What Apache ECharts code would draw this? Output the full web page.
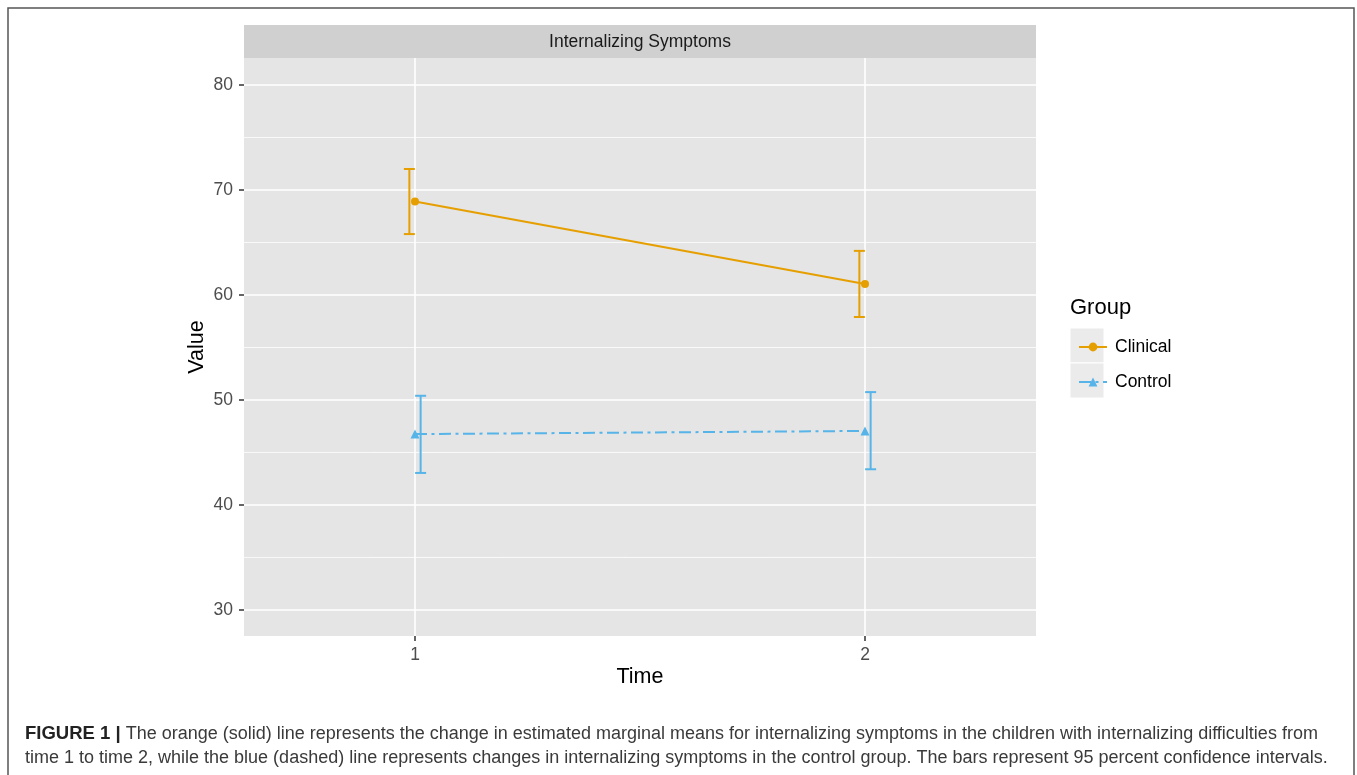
<!DOCTYPE html>
<html>
<head>
<meta charset="utf-8">
<script src="https://cdn.jsdelivr.net/npm/echarts@6/dist/echarts.min.js"></script>
<style>
html,body{margin:0;padding:0;background:#fff;}
#chart{width:1357px;height:775px;}
</style>
</head>
<body>
<div id="chart"></div>
<script>
// ---- data ----
var times = [1, 2];
var timeLabels = ['1', '2'];
var groups = ['Clinical', 'Control'];
var clinicalMean = [68.9, 61.05];
var clinicalLow = [65.8, 57.9];
var clinicalHigh = [72.0, 64.2];
var controlMean = [46.75, 47.05];
var controlLow = [43.05, 43.4];
var controlHigh = [50.4, 50.75];
var yMajorTicks = [30, 40, 50, 60, 70, 80];
var yMinorTicks = [35, 45, 55, 65, 75];
var stripTitle = 'Internalizing Symptoms';
var legendTitle = 'Group';
var captionBold = 'FIGURE 1 |';
var captionLine1 = ' The orange (solid) line represents the change in estimated marginal means for internalizing symptoms in the children with internalizing difficulties from';
var captionLine2 = 'time 1 to time 2, while the blue (dashed) line represents changes in internalizing symptoms in the control group. The bars represent 95 percent confidence intervals.';

// ---- layout / style ----
var X_MIN = 0.62, X_MAX = 2.38, Y_MIN = 27.52, Y_MAX = 82.57;
var DODGE = 0.0125;
var ORANGE = '#E69F00', BLUE = '#56B4E9';
var FONT = '"Liberation Sans", Arial, Helvetica, sans-serif';
var GRID = {left: 244, top: 58, width: 792, height: 578};

function pairs(xs, ys) { return xs.map(function (x, i) { return [x, ys[i]]; }); }
function triples(xs, lo, hi) { return xs.map(function (x, i) { return [x, lo[i], hi[i]]; }); }

function hLineSeries(values, width) {
  return {
    type: 'custom', silent: true, z: 1,
    data: values.map(function (v) { return [X_MIN, v]; }),
    renderItem: function (params, api) {
      var cs = params.coordSys;
      var y = api.coord([X_MIN, api.value(1)])[1];
      return {type: 'line', shape: {x1: cs.x, y1: y, x2: cs.x + cs.width, y2: y},
        style: {stroke: '#ffffff', lineWidth: width}};
    }
  };
}
function vLineSeries(values, width) {
  return {
    type: 'custom', silent: true, z: 1,
    data: values.map(function (v) { return [v, Y_MIN]; }),
    renderItem: function (params, api) {
      var cs = params.coordSys;
      var x = api.coord([api.value(0), Y_MIN])[0];
      return {type: 'line', shape: {x1: x, y1: cs.y, x2: x, y2: cs.y + cs.height},
        style: {stroke: '#ffffff', lineWidth: width}};
    }
  };
}
function errorSeries(name, data, color, dodge) {
  return {
    name: name, type: 'custom', z: 3, silent: true,
    data: data,
    renderItem: function (params, api) {
      var x = api.value(0) + dodge;
      var lo = api.coord([x, api.value(1)]);
      var hi = api.coord([x, api.value(2)]);
      var hw = 5.5;
      var st = {stroke: color, lineWidth: 2};
      return {type: 'group', children: [
        {type: 'line', shape: {x1: lo[0], y1: lo[1], x2: hi[0], y2: hi[1]}, style: st},
        {type: 'line', shape: {x1: lo[0] - hw, y1: lo[1], x2: lo[0] + hw, y2: lo[1]}, style: st},
        {type: 'line', shape: {x1: hi[0] - hw, y1: hi[1], x2: hi[0] + hw, y2: hi[1]}, style: st}
      ]};
    }
  };
}

var chart = echarts.init(document.getElementById('chart'), null, {renderer: 'canvas'});
var option = {
  animation: false,
  backgroundColor: '#ffffff',
  textStyle: {fontFamily: FONT},
  grid: {left: GRID.left, top: GRID.top, width: GRID.width, height: GRID.height,
    show: true, backgroundColor: '#e5e5e5', borderWidth: 0},
  xAxis: {
    type: 'value', min: X_MIN, max: X_MAX,
    name: 'Time', nameLocation: 'middle', nameGap: 30, nameMoveOverlap: false,
    nameTextStyle: {fontSize: 21.5, color: '#000', fontFamily: FONT},
    axisLine: {show: false},
    splitLine: {show: false},
    axisTick: {show: true, length: 5, customValues: times, lineStyle: {color: '#333', width: 1.5}},
    axisLabel: {customValues: times, margin: 10, color: '#4d4d4d', fontSize: 17.5, fontFamily: FONT,
      formatter: function (v) { var i = times.indexOf(v); return i >= 0 ? timeLabels[i] : ''; }}
  },
  yAxis: {
    type: 'value', min: Y_MIN, max: Y_MAX,
    name: 'Value', nameLocation: 'middle', nameGap: 36, nameMoveOverlap: false,
    nameTextStyle: {fontSize: 21.5, color: '#000', fontFamily: FONT},
    axisLine: {show: false},
    splitLine: {show: false},
    axisTick: {show: true, length: 5, customValues: yMajorTicks, lineStyle: {color: '#333', width: 1.5}},
    axisLabel: {customValues: yMajorTicks, margin: 11, color: '#4d4d4d', fontSize: 17.5, fontFamily: FONT}
  },
  legend: {
    data: groups, orient: 'vertical', left: 1073, top: 333,
    itemWidth: 28, itemHeight: 11, itemGap: 17,
    textStyle: {fontSize: 17.5, color: '#000', fontFamily: FONT, padding: [0, 0, 0, 3]},
    selectedMode: false
  },
  graphic: [
    {type: 'rect', z: -1, shape: {x: 8, y: 8, width: 1346, height: 800},
      style: {fill: 'none', stroke: '#555', lineWidth: 1.5}},
    {type: 'rect', z: 0, shape: {x: GRID.left, y: 25, width: GRID.width, height: 33},
      style: {fill: '#d0d0d0'}},
    {type: 'text', z: 1, x: GRID.left + GRID.width / 2, y: 42,
      style: {text: stripTitle, fontSize: 17.5, fill: '#1a1a1a', fontFamily: FONT,
        align: 'center', verticalAlign: 'middle'}},
    {type: 'text', z: 1, x: 1070, y: 308,
      style: {text: legendTitle, fontSize: 22, fill: '#000', fontFamily: FONT,
        align: 'left', verticalAlign: 'middle'}},
    {type: 'rect', z: 0, shape: {x: 1070, y: 328, width: 34, height: 35},
      style: {fill: '#ebebeb', stroke: '#ffffff', lineWidth: 1}},
    {type: 'rect', z: 0, shape: {x: 1070, y: 363, width: 34, height: 35},
      style: {fill: '#ebebeb', stroke: '#ffffff', lineWidth: 1}},
    {type: 'text', z: 1, x: 25, y: 746,
      style: {
        text: '{b|' + captionBold + '}{n|' + captionLine1 + '}\n{n|' + captionLine2 + '}',
        fontFamily: FONT, verticalAlign: 'middle', align: 'left',
        lineHeight: 24,
        rich: {
          b: {fontSize: 18.5, fontWeight: 'bold', fill: '#222', fontFamily: FONT, lineHeight: 24},
          n: {fontSize: 18, fill: '#3a3a3a', fontFamily: FONT, lineHeight: 24}
        }
      }}
  ],
  series: [
    hLineSeries(yMinorTicks, 0.8),
    hLineSeries(yMajorTicks, 1.6),
    vLineSeries(times, 1.6),
    errorSeries('Clinical CI', triples(times, clinicalLow, clinicalHigh), ORANGE, -DODGE),
    errorSeries('Control CI', triples(times, controlLow, controlHigh), BLUE, DODGE),
    {name: groups[0], type: 'line', z: 4, data: pairs(times, clinicalMean),
      symbol: 'circle', symbolSize: 8, showSymbol: true,
      lineStyle: {color: ORANGE, width: 2, type: 'solid'},
      itemStyle: {color: ORANGE}, emphasis: {disabled: true}},
    {name: groups[1], type: 'line', z: 4, data: pairs(times, controlMean),
      symbol: 'triangle', symbolSize: 9, showSymbol: true,
      lineStyle: {color: BLUE, width: 2, type: [12, 4.5, 3, 4.5]},
      itemStyle: {color: BLUE}, emphasis: {disabled: true}}
  ]
};
chart.setOption(option);
</script>
</body>
</html>
